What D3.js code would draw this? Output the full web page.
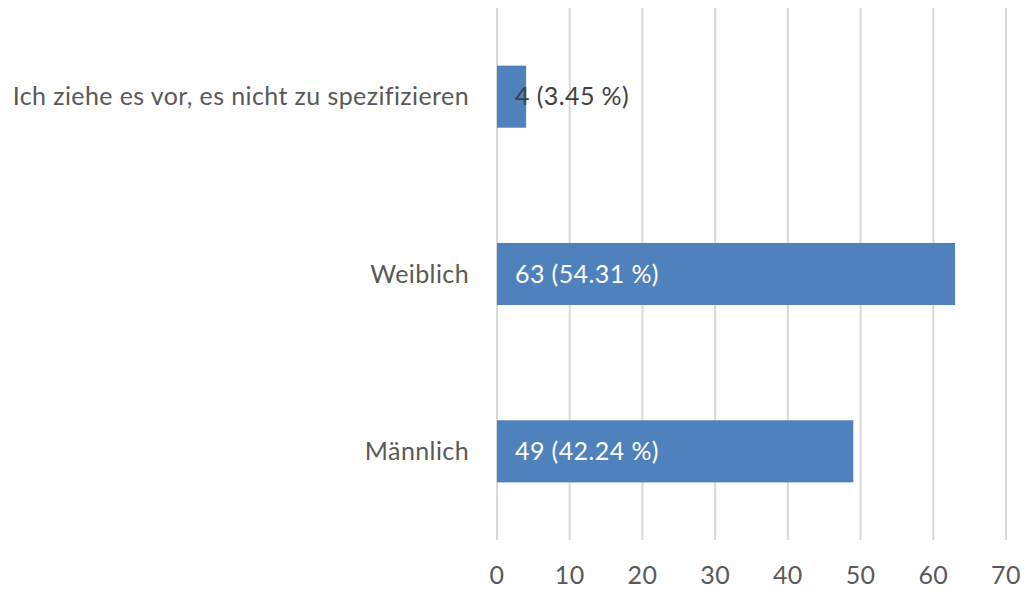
<!DOCTYPE html>
<html>
<head>
<meta charset="utf-8">
<script src="https://cdn.jsdelivr.net/npm/d3@7"></script>
<style>
  html, body { margin: 0; padding: 0; background: #ffffff; }
  svg { display: block; }
  text { font-family: Lato, "Open Sans", sans-serif; letter-spacing: 0.4px; }
</style>
</head>
<body>
<svg id="chart" width="1024" height="590"></svg>
<script>
// Responses per gender option
const categories = ["Ich ziehe es vor, es nicht zu spezifizieren", "Weiblich", "Männlich"];
const counts = [4, 63, 49];
const shares = ["3.45", "54.31", "42.24"];
const xTicks = [0, 10, 20, 30, 40, 50, 60, 70];

const svg = d3.select("#chart");
const plot = { left: 497, right: 1006, top: 8, bottom: 540 };
const fontSize = 25;

const x = d3.scaleLinear().domain([0, 70]).range([plot.left, plot.right]);
const y = d3.scaleBand()
  .domain(categories)
  .range([plot.top, plot.bottom])
  .paddingInner(0.65)
  .paddingOuter(0.325);

// vertical gridlines
svg.append("g")
  .selectAll("line")
  .data(xTicks)
  .join("line")
  .attr("x1", d => x(d)).attr("x2", d => x(d))
  .attr("y1", plot.top).attr("y2", plot.bottom)
  .attr("stroke", "#d9d9d9")
  .attr("stroke-width", 2);

// x tick labels
svg.append("g")
  .selectAll("text")
  .data(xTicks)
  .join("text")
  .attr("x", d => x(d))
  .attr("y", 584)
  .attr("text-anchor", "middle")
  .attr("fill", "#595959")
  .attr("font-size", fontSize)
  .text(d => d);

const rows = categories.map((c, i) => ({ cat: c, value: counts[i], share: shares[i] }));

// bars
svg.append("g")
  .selectAll("rect")
  .data(rows)
  .join("rect")
  .attr("x", x(0))
  .attr("y", d => y(d.cat))
  .attr("width", d => x(d.value) - x(0))
  .attr("height", y.bandwidth())
  .attr("fill", "#4f81bd");

// category labels
svg.append("g")
  .selectAll("text")
  .data(rows)
  .join("text")
  .attr("x", x(0) - 28)
  .attr("y", d => y(d.cat) + y.bandwidth() / 2)
  .attr("dy", "0.35em")
  .attr("text-anchor", "end")
  .attr("fill", "#595959")
  .attr("font-size", fontSize)
  .text(d => d.cat);

// value labels at the bar base
svg.append("g")
  .selectAll("text")
  .data(rows)
  .join("text")
  .attr("x", x(0) + 18)
  .attr("y", d => y(d.cat) + y.bandwidth() / 2)
  .attr("dy", "0.35em")
  .attr("fill", d => (x(d.value) - x(0) > 150 ? "#ffffff" : "#404040"))
  .attr("font-size", fontSize)
  .text(d => `${d.value} (${d.share} %)`);
</script>
</body>
</html>
